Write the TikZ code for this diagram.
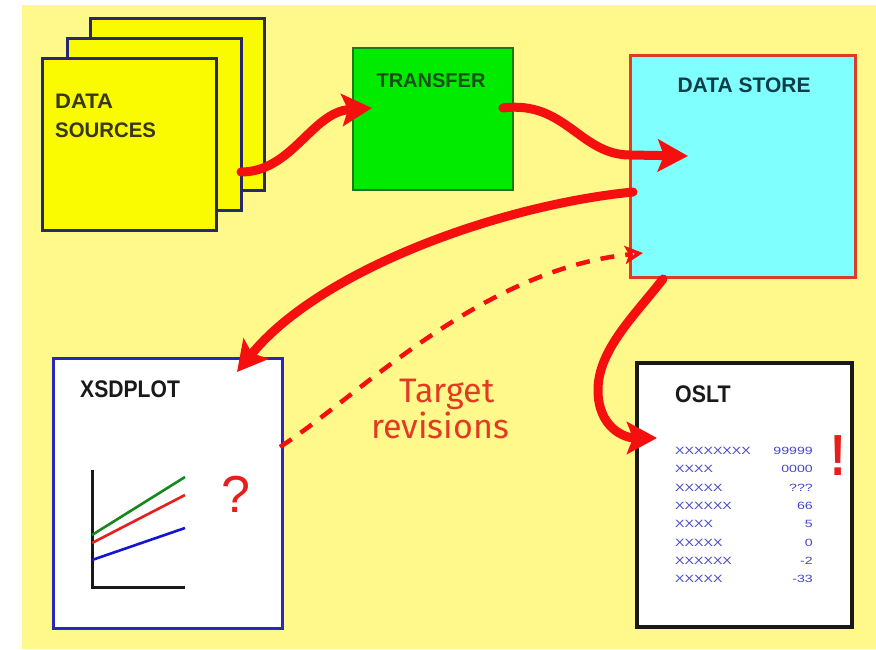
\documentclass[tikz,border=0pt]{standalone}
\usepackage{fontspec}
\usepackage{graphicx}
\setmainfont{Liberation Sans}
\newfontfamily\notefont{Fira Sans}
\usetikzlibrary{arrows.meta}

\definecolor{bgyellow}{RGB}{255,249,140}
\definecolor{cardyellow}{RGB}{250,250,0}
\definecolor{cardedge}{RGB}{40,40,110}
\definecolor{cardtext}{RGB}{55,55,25}
\definecolor{xfergreen}{RGB}{0,235,0}
\definecolor{xferedge}{RGB}{30,120,30}
\definecolor{xfertext}{RGB}{20,80,20}
\definecolor{storecyan}{RGB}{128,255,255}
\definecolor{storeedge}{RGB}{220,60,40}
\definecolor{storetext}{RGB}{15,60,70}
\definecolor{plotedge}{RGB}{40,40,190}
\definecolor{flowred}{RGB}{245,15,15}
\definecolor{notered}{RGB}{225,60,35}
\definecolor{tableblue}{RGB}{70,70,200}
\definecolor{plotgreen}{RGB}{20,135,30}
\definecolor{plotred}{RGB}{230,30,30}
\definecolor{plotblue}{RGB}{20,20,210}

\newcommand\widetext[1]{\scalebox{1.35}[1]{#1}}

\begin{document}
\begin{tikzpicture}[x=1pt,y=-1pt,
  box/.style={inner sep=0pt, outer sep=0pt, anchor=north west, line width=3pt},
  card/.style={box, draw=cardedge, fill=cardyellow, minimum width=174pt, minimum height=172pt},
  flow/.style={draw=flowred, line width=9pt, line cap=round,
    -{Stealth[length=30pt, width=32pt, inset=6pt]}},
  revise/.style={draw=flowred, line width=4.5pt, dash pattern=on 14pt off 11pt,
    -{Stealth[length=18pt, width=18pt, inset=4pt, open, line width=4pt]}},
  heading/.style={inner sep=0pt, anchor=base west},
  cell/.style={inner sep=0pt, text=tableblue, font=\fontsize{10.5}{12}\selectfont},
  axis/.style={line width=3pt, draw=black!90},
  series/.style={line width=2.6pt}
]
\useasboundingbox (0,0) rectangle (876,649);
\fill[white] (0,0) rectangle (876,649);
\fill[bgyellow] (22,5) rectangle (876,649);

% stack of source cards
\node[card] (ds3) at (90,18) {};
\node[card] (ds2) at (67,38) {};
\node[card] (ds1) at (42,58) {};
\node[heading, text=cardtext, font=\bfseries\fontsize{21}{26}\selectfont] (dsa) at (55,108) {\scalebox{1.05}[1]{DATA}};
\node[heading, text=cardtext, font=\bfseries\fontsize{21}{26}\selectfont] (dsb) at (55,137) {\scalebox{0.97}[1]{SOURCES}};

% transfer step
\node[box, draw=xferedge, fill=xfergreen, line width=2.5pt,
      minimum width=160pt, minimum height=142pt] (transfer) at (353,48) {};
\node[inner sep=0pt, anchor=base, text=xfertext, font=\bfseries\fontsize{20}{24}\selectfont]
  (transferlbl) at (431,87) {TRANSFER};

% data store
\node[box, draw=storeedge, fill=storecyan,
      minimum width=225pt, minimum height=222pt] (store) at (630,55) {};
\node[inner sep=0pt, anchor=base, text=storetext, font=\bfseries\fontsize{21}{24}\selectfont]
  (storelbl) at (744,92) {DATA STORE};

% XSDPLOT window
\node[box, draw=plotedge, fill=white,
      minimum width=229pt, minimum height=270pt] (xsd) at (53,358) {};
\node[heading, text=black!90, font=\bfseries\fontsize{24}{28}\selectfont]
  (xsdlbl) at (80,397) {\scalebox{0.88}[1]{XSDPLOT}};
\draw[axis] (92,470) -- (92,587) -- (185,587);
\draw[series, plotgreen] (92,535) -- (185,477);
\draw[series, plotred] (92,543) -- (185,495);
\draw[series, plotblue] (92,560) -- (185,528);
\node[inner sep=0pt, anchor=base, text=plotred, font=\fontsize{52}{56}\selectfont]
  (query) at (236,512) {?};

% OSLT listing
\node[box, draw=black!90, line width=3.5pt, fill=white,
      minimum width=215pt, minimum height=264pt] (oslt) at (637,363) {};
\node[heading, text=black!90, font=\bfseries\fontsize{24}{28}\selectfont]
  (osltlbl) at (675,402) {\scalebox{0.89}[1]{OSLT}};
\foreach \k/\name/\val in {0/XXXXXXXX/99999, 1/XXXX/0000, 2/XXXXX/???, 3/XXXXXX/66,
                           4/XXXX/5, 5/XXXXX/0, 6/XXXXXX/-2, 7/XXXXX/-33} {
  \node[cell, anchor=west] (row\k l) at (675,{451+18.3*\k}) {\widetext{\name}};
  \node[cell, anchor=east] (row\k r) at (813,{451+18.3*\k}) {\widetext{\val}};
}
\node[inner sep=0pt, anchor=base, text=plotred, font=\bfseries\fontsize{58}{64}\selectfont]
  (alert) at (838,475) {\scalebox{0.8}[1]{!}};

% flows
\draw[flow] ([yshift=38pt]ds2.south east)
  .. controls (292,172) and (312,112) .. ([xshift=19pt,yshift=11pt]transfer.west);
\draw[flow] ([xshift=-10pt,yshift=11pt]transfer.east)
  .. controls (565,100) and (580,155) .. (630,155)
  -- ([xshift=58pt,yshift=10pt]store.west);
\draw[flow] ([xshift=3pt,yshift=-26pt]store.west)
  .. controls (500,205) and (320,270) .. ([xshift=-45pt,yshift=-14pt]xsd.north east);
\draw[flow] ([xshift=33pt,yshift=-2pt]store.south west)
  .. controls (635,315) and (598,350) .. (598,390)
  .. controls (598,428) and (625,438) .. ([xshift=20pt,yshift=-75pt]oslt.north west);
\draw[revise] ([xshift=-2pt,yshift=46pt]xsd.east)
  .. controls (360,395) and (480,270) .. ([xshift=13pt,yshift=24pt]store.south west);

% annotation
\node[inner sep=0pt, anchor=base, text=notered, font=\notefont\fontsize{34}{36}\selectfont]
  (tgt1) at (447,402) {Target};
\node[inner sep=0pt, anchor=base, text=notered, font=\notefont\fontsize{34}{36}\selectfont]
  (tgt2) at (440,438) {revisions};
\end{tikzpicture}
\end{document}
